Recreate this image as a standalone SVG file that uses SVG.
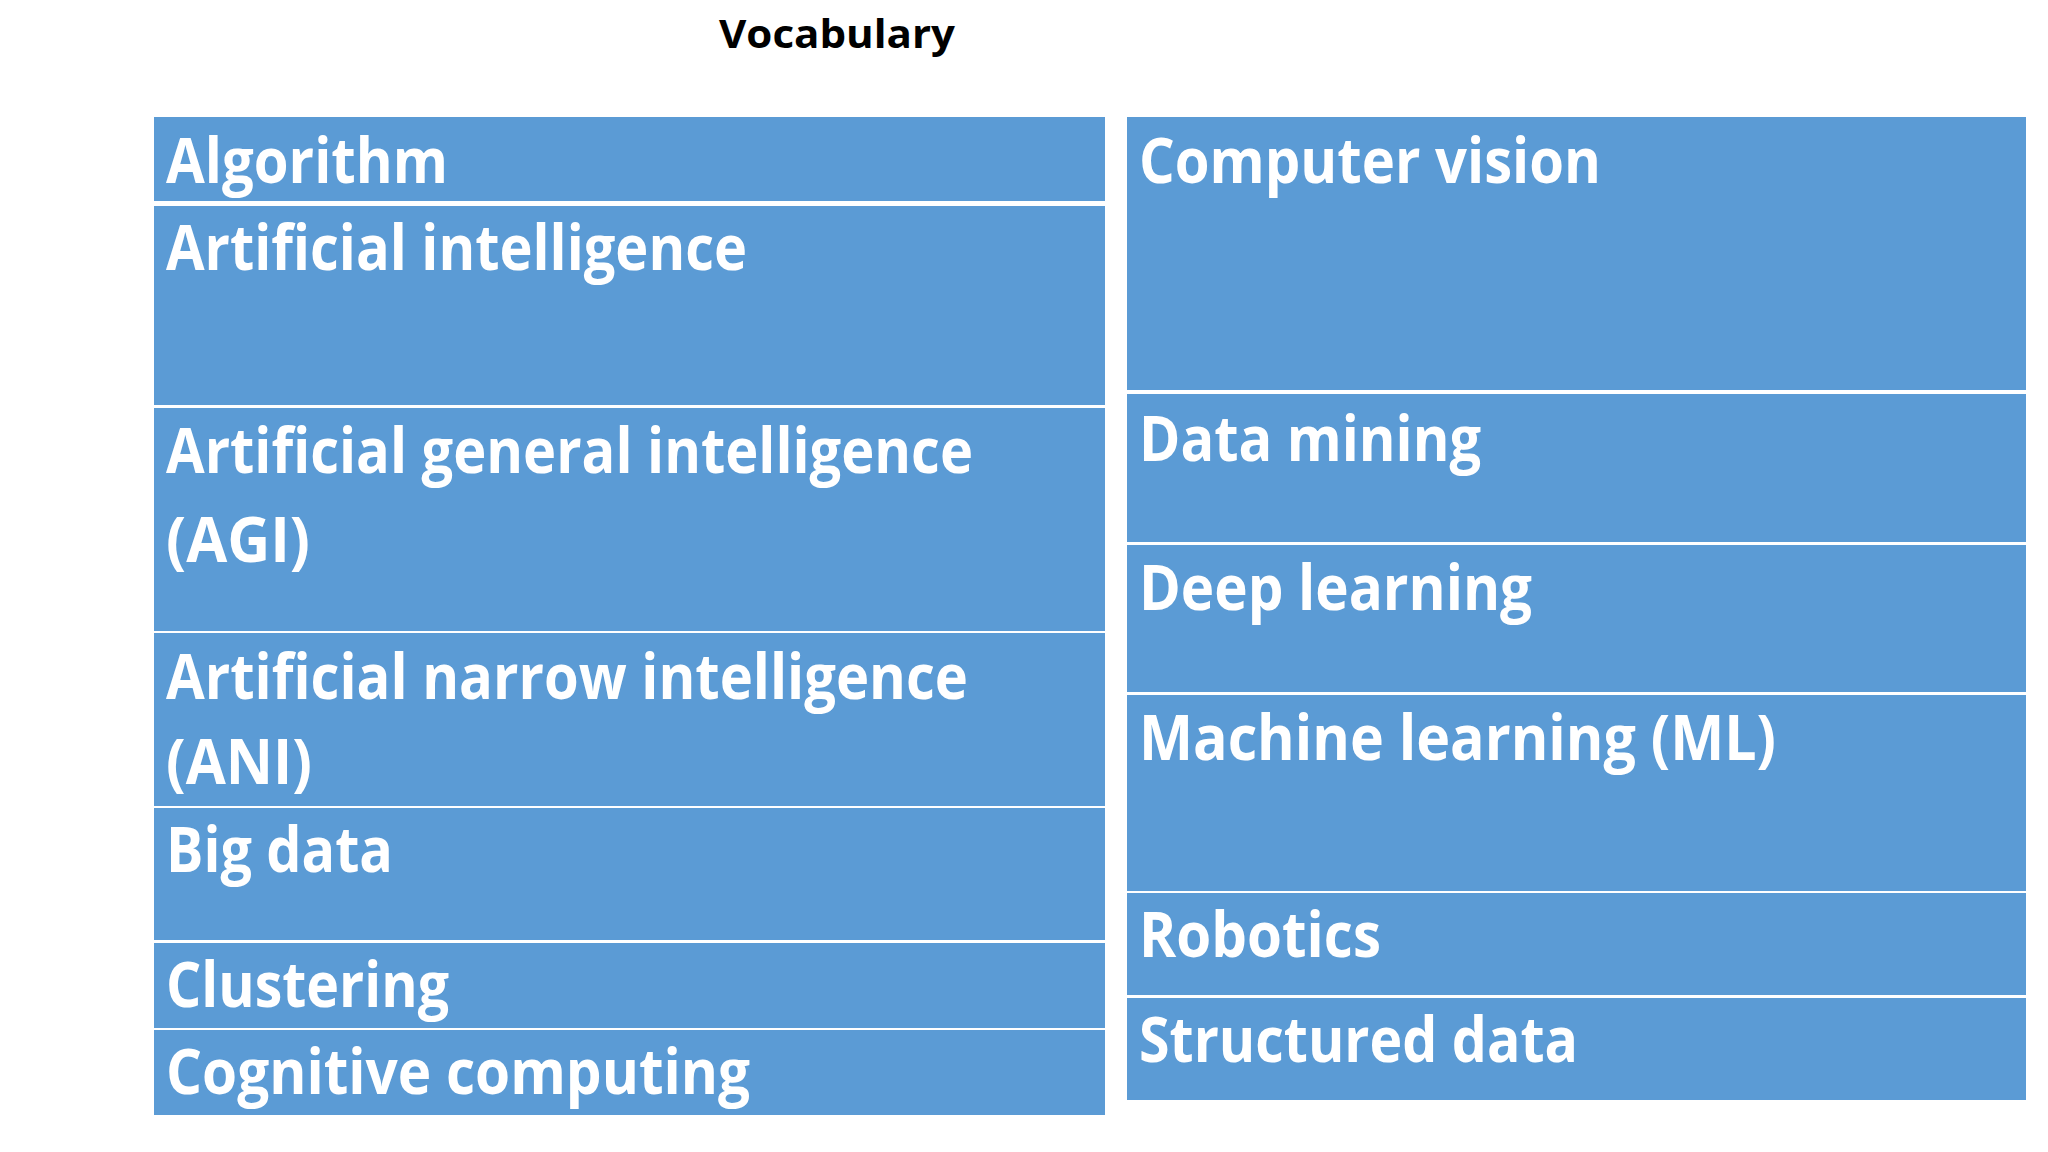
<svg xmlns="http://www.w3.org/2000/svg" width="2048" height="1152" viewBox="0 0 2048 1152">
<style>
.c{fill:#5B9BD5}
.t{font-family:"Open Sans","Liberation Sans",sans-serif;font-weight:bold;font-size:62px;fill:#fff}
.h{font-family:"Open Sans","Liberation Sans",sans-serif;font-weight:bold;font-size:40px;fill:#000}
</style>
<rect width="2048" height="1152" fill="#fff"/>
<text class="h" x="837" y="48" text-anchor="middle" textLength="236" lengthAdjust="spacingAndGlyphs">Vocabulary</text>
<g id="algorithm"><rect class="c" x="154" y="117" width="951" height="84"/><text class="t" x="166" y="183" textLength="282" lengthAdjust="spacingAndGlyphs">Algorithm</text></g>
<g id="ai"><rect class="c" x="154" y="206" width="951" height="199"/><text class="t" x="166" y="270" textLength="581" lengthAdjust="spacingAndGlyphs">Artificial intelligence</text></g>
<g id="agi"><rect class="c" x="154" y="408" width="951" height="223"/><text class="t" x="166" y="473" textLength="807" lengthAdjust="spacingAndGlyphs">Artificial general intelligence</text><text class="t" x="166" y="562" textLength="144" lengthAdjust="spacingAndGlyphs">(AGI)</text></g>
<g id="ani"><rect class="c" x="154" y="633" width="951" height="173"/><text class="t" x="166" y="699" textLength="802" lengthAdjust="spacingAndGlyphs">Artificial narrow intelligence</text><text class="t" x="166" y="784" textLength="146" lengthAdjust="spacingAndGlyphs">(ANI)</text></g>
<g id="bigdata"><rect class="c" x="154" y="808" width="951" height="132"/><text class="t" x="166" y="872" textLength="227" lengthAdjust="spacingAndGlyphs">Big data</text></g>
<g id="clustering"><rect class="c" x="154" y="943" width="951" height="85"/><text class="t" x="166" y="1007" textLength="283" lengthAdjust="spacingAndGlyphs">Clustering</text></g>
<g id="cognitive"><rect class="c" x="154" y="1030" width="951" height="85"/><text class="t" x="166" y="1094" textLength="584" lengthAdjust="spacingAndGlyphs">Cognitive computing</text></g>
<g id="cv"><rect class="c" x="1127" y="117" width="899" height="273"/><text class="t" x="1139" y="183" textLength="462" lengthAdjust="spacingAndGlyphs">Computer vision</text></g>
<g id="dm"><rect class="c" x="1127" y="394" width="899" height="148"/><text class="t" x="1139" y="461" textLength="342" lengthAdjust="spacingAndGlyphs">Data mining</text></g>
<g id="dl"><rect class="c" x="1127" y="545" width="899" height="147"/><text class="t" x="1139" y="610" textLength="393" lengthAdjust="spacingAndGlyphs">Deep learning</text></g>
<g id="ml"><rect class="c" x="1127" y="695" width="899" height="196"/><text class="t" x="1139" y="760" textLength="637" lengthAdjust="spacingAndGlyphs">Machine learning (ML)</text></g>
<g id="robotics"><rect class="c" x="1127" y="893" width="899" height="102"/><text class="t" x="1139" y="957" textLength="242" lengthAdjust="spacingAndGlyphs">Robotics</text></g>
<g id="structured"><rect class="c" x="1127" y="998" width="899" height="102"/><text class="t" x="1139" y="1062" textLength="439" lengthAdjust="spacingAndGlyphs">Structured data</text></g>
<g id="connectors"/>
</svg>
